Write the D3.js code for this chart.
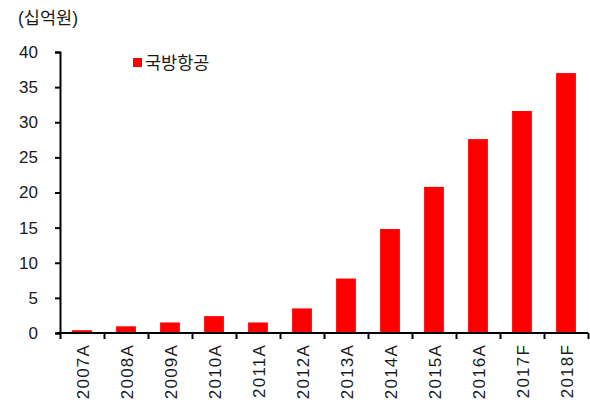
<!DOCTYPE html>
<html>
<head>
<meta charset="utf-8">
<script src="https://cdn.jsdelivr.net/npm/d3@7"></script>
<style>
  body { margin: 0; background: #fff; }
  text { font-family: "Liberation Sans", "Noto Sans CJK KR", sans-serif; fill: #1a1a1a; }
</style>
</head>
<body>
<div id="chart"></div>
<script>
const years = ["2007A","2008A","2009A","2010A","2011A","2012A","2013A","2014A","2015A","2016A","2017F","2018F"]
const values = [0.4, 0.95, 1.5, 2.4, 1.5, 3.5, 7.75, 14.8, 20.8, 27.6, 31.6, 37.0]
const yTicks = [0, 5, 10, 15, 20, 25, 30, 35, 40]
const seriesName = "국방항공"
const unitLabel = "(십억원)"

const width = 590, height = 400
const plotLeft = 60, plotRight = 588, plotTop = 52, plotBottom = 333

const svg = d3.select("#chart").append("svg")
  .attr("width", width)
  .attr("height", height)

const x = d3.scaleBand()
  .domain(years)
  .range([plotLeft, plotRight])
  .paddingInner(0.55)
  .paddingOuter(0.275)

const y = d3.scaleLinear()
  .domain([0, 40])
  .range([plotBottom, plotTop])

// bars
svg.selectAll("rect.bar")
  .data(values)
  .enter()
  .append("rect")
  .attr("class", "bar")
  .attr("x", (d, i) => x(years[i]))
  .attr("y", d => y(d))
  .attr("width", x.bandwidth())
  .attr("height", d => y(0) - y(d))
  .attr("fill", "#ff0000")

// y axis
const yAxis = svg.append("g")
  .attr("transform", "translate(" + plotLeft + ",0)")
  .call(d3.axisLeft(y).tickValues(yTicks).tickSize(5).tickPadding(17))
yAxis.select(".domain").attr("stroke", "#000").attr("stroke-width", 2)
yAxis.selectAll(".tick line").attr("stroke", "#000").attr("stroke-width", 2)
yAxis.selectAll(".tick text")
  .style("font-size", "17px")
  .attr("fill", "#1a1a1a")

// x axis: ticks sit on band boundaries
const xAxisScale = d3.scaleLinear().domain([0, years.length]).range([plotLeft, plotRight])
const xAxis = svg.append("g")
  .attr("transform", "translate(0," + plotBottom + ")")
  .call(d3.axisBottom(xAxisScale).tickValues(d3.range(years.length + 1)).tickSize(6).tickFormat(""))
xAxis.select(".domain").attr("stroke", "#000").attr("stroke-width", 2)
  .attr("d", "M" + (plotLeft - 3) + ",0H" + plotRight)
xAxis.selectAll(".tick line").attr("stroke", "#000").attr("stroke-width", 2)

svg.append("g").selectAll("text.xl")
  .data(years)
  .enter()
  .append("text")
  .attr("class", "xl")
  .attr("transform", d => "translate(" + (x(d) + x.bandwidth() / 2 + 7) + "," + (plotBottom + 11) + ") rotate(-90)")
  .attr("text-anchor", "end")
  .style("font-size", "17px")
  .style("letter-spacing", "1.2px")
  .text(d => d)

// unit label
svg.append("text")
  .attr("x", 18)
  .attr("y", 24)
  .style("font-size", "17.5px")
  .text(unitLabel)

// legend
svg.append("rect")
  .attr("x", 133)
  .attr("y", 58)
  .attr("width", 9)
  .attr("height", 9)
  .attr("fill", "#ff0000")
svg.append("text")
  .attr("x", 145)
  .attr("y", 69)
  .style("font-size", "17.5px")
  .text(seriesName)
</script>
</body>
</html>
